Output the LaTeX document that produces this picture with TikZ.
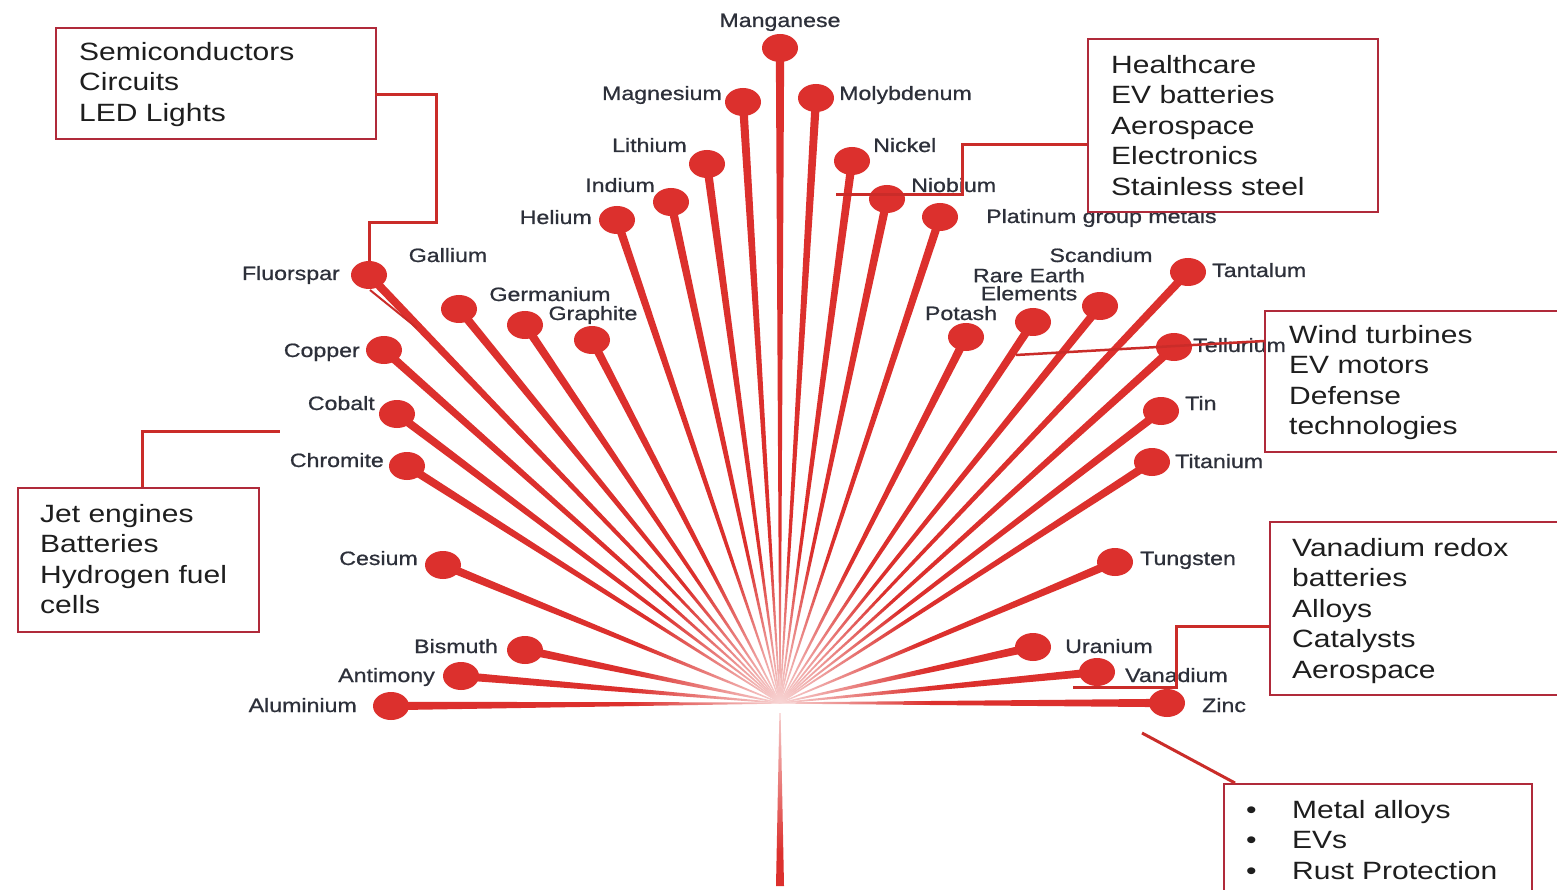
\documentclass[tikz,border=0pt]{standalone}
\usepackage{fontspec}
\setmainfont{Liberation Sans}
\newfontfamily\stretchfont[FakeStretch=1.2]{Liberation Sans}
\newfontfamily\lblfont[FakeStretch=1.2,FakeBold=0.8]{Liberation Sans}
\usetikzlibrary{shapes.geometric,calc,fadings}
\tikzfading[name=centerfade, inner color=transparent!0, outer color=transparent!100]
\definecolor{spokered}{RGB}{220,48,45}
\definecolor{framered}{RGB}{176,42,58}
\definecolor{lblgray}{RGB}{45,48,58}
\definecolor{boxink}{RGB}{30,30,30}
\tikzset{
  ball/.style={ellipse, fill=spokered, inner sep=0pt, minimum width=36pt, minimum height=28pt},
  lbl/.style={inner sep=0pt, text=lblgray, font=\lblfont\fontsize{19.3}{18}\selectfont},
  boxframe/.style={draw=framered, line width=1.6pt, inner sep=0pt, anchor=north west},
  boxtext/.style={inner sep=0pt, align=left, anchor=north west, text=boxink, font=\stretchfont\fontsize{25}{30.5}\selectfont},
  link/.style={draw=spokered!92!black, line width=3pt},
}
\begin{document}
\begin{tikzpicture}[x=1pt,y=-1pt]
\useasboundingbox (0,0) rectangle (1557,890);
\fill[white] (0,0) rectangle (1557,890);
\coordinate (c) at (780,703);
% balls
\foreach \n/\x/\y in {mn/780/48, mg/743/102, mo/816/98, li/707/164, ni/852/161,
  in/671/202, nb/887/199, he/617/220, pt/940/217, fl/369/275, ga/459/309,
  ge/525/325, gr/592/340, cu/384/350, co/397/414, cr/407/466, cs/443/565,
  bi/525/650, sb/461/676, al/391/706, k/966/337, re/1033/322, sc/1100/306,
  ta/1188/272, te/1174/347, sn/1161/411, ti/1152/462, w/1115/562,
  u/1033/647, v/1097/672, zn/1167/703}
  \node[ball] (\n) at (\x,\y) {};
% spokes
\foreach \n in {mn,mg,mo,li,ni,in,nb,he,pt,fl,ga,ge,gr,cu,co,cr,cs,bi,sb,al,
  k,re,sc,ta,te,sn,ti,w,u,v,zn}
  \fill[spokered] ($(c)!0.6pt!90:(\n)$) -- ($(\n)!4.2pt!-90:(c)$)
     -- ($(\n)!4.2pt!90:(c)$) -- ($(c)!0.6pt!-90:(\n)$) -- cycle;
% stem
\coordinate (stemtop) at (780,713);
\coordinate (stembot) at (780,886);
\fill[spokered] ($(stemtop)+(-0.6,0)$) -- ($(stemtop)+(0.6,0)$)
   -- ($(stembot)+(4,0)$) -- ($(stembot)+(-4,0)$) -- cycle;
% fade at the centre
\fill[white, fill opacity=0.8, path fading=centerfade] (c) circle (150pt);
% labels
\node[lbl, anchor=base] (mnL) at (780,27) {Manganese};
\node[lbl, anchor=base east] (mgL) at (722,100) {Magnesium};
\node[lbl, anchor=base west] (moL) at (839,100) {Molybdenum};
\node[lbl, anchor=base east] (liL) at (687,152) {Lithium};
\node[lbl, anchor=base west] (niL) at (873,152) {Nickel};
\node[lbl, anchor=base east] (inL) at (655,192) {Indium};
\node[lbl, anchor=base west] (nbL) at (911,192) {Niobium};
\node[lbl, anchor=base east] (heL) at (592,224) {Helium};
\node[lbl, anchor=base west] (ptL) at (986,223) {Platinum group metals};
\node[lbl, anchor=base east] (flL) at (340,280) {Fluorspar};
\node[lbl, anchor=base] (gaL) at (448,262) {Gallium};
\node[lbl, anchor=base] (geL) at (550,301) {Germanium};
\node[lbl, anchor=base] (grL) at (593,320) {Graphite};
\node[lbl, anchor=base east] (cuL) at (360,357) {Copper};
\node[lbl, anchor=base east] (coL) at (375,410) {Cobalt};
\node[lbl, anchor=base east] (crL) at (384,467) {Chromite};
\node[lbl, anchor=base east] (csL) at (418,565) {Cesium};
\node[lbl, anchor=base east] (biL) at (498,653) {Bismuth};
\node[lbl, anchor=base east] (sbL) at (435,682) {Antimony};
\node[lbl, anchor=base east] (alL) at (357,712) {Aluminium};
\node[lbl, anchor=base] (kL) at (961,320) {Potash};
\node[lbl, anchor=north, align=center] (reL) at (1029,268) {Rare Earth\\Elements};
\node[lbl, anchor=base] (scL) at (1101,262) {Scandium};
\node[lbl, anchor=base west] (taL) at (1212,277) {Tantalum};
\node[lbl, anchor=base west] (teL) at (1193,352) {Tellurium};
\node[lbl, anchor=base west] (snL) at (1185,410) {Tin};
\node[lbl, anchor=base west] (tiL) at (1175,468) {Titanium};
\node[lbl, anchor=base west] (wL) at (1140,565) {Tungsten};
\node[lbl, anchor=base west] (uL) at (1065,653) {Uranium};
\node[lbl, anchor=base west] (vL) at (1125,682) {Vanadium};
\node[lbl, anchor=base west] (znL) at (1202,712) {Zinc};
% boxes
\node[boxframe, minimum width=320pt, minimum height=111pt] (semiBox) at (55,27) {};
\node[boxframe, fill=white, minimum width=290pt, minimum height=173pt] (hcBox) at (1087,38) {};
\node[boxframe, minimum width=241pt, minimum height=144pt] (jetBox) at (17,487) {};
\node[boxframe, minimum width=305pt, minimum height=141pt] (windBox) at (1264,310) {};
\node[boxframe, minimum width=300pt, minimum height=173pt] (vanBox) at (1269,521) {};
\node[boxframe, minimum width=308pt, minimum height=120pt] (metBox) at (1223,783) {};
% connector end points
\coordinate (s1) at (375,95);
\coordinate (h1) at (1087,145);
\coordinate (h2) at (836,195);
\coordinate (j1) at (142,487);
\coordinate (j2) at (280,431);
\coordinate (t1) at (1264,341);
\coordinate (t2) at (1016,355);
\coordinate (v1) at (1269,626);
\coordinate (v2) at (1073,687);
\coordinate (m1) at (1235,783);
\coordinate (m2) at (1142,733);
\coordinate (f1) at (370,290);
\coordinate (f2) at (417,328);
% connectors
\draw[link] (s1) -| (436,223) -| (fl.north);
\draw[link, line width=2pt] (f1) -- (f2);
\draw[link] (h1) -| (962,195) -- (h2);
\draw[link] (j1) |- (j2);
\draw[link, line width=2.5pt] (t1) -- (t2);
\draw[link] (v1) -| (1176,687) -- (v2);
\draw[link] (m1) -- (m2);
% box texts
\node[boxtext] (semiT) at (79,42) {Semiconductors\\Circuits\\LED Lights};
\node[boxtext] (hcT) at (1111,55) {Healthcare\\EV batteries\\Aerospace\\Electronics\\Stainless steel};
\node[boxtext] (jetT) at (40,504) {Jet engines\\Batteries\\Hydrogen fuel\\cells};
\node[boxtext] (windT) at (1289,325) {Wind turbines\\EV motors\\Defense\\technologies};
\node[boxtext] (vanT) at (1292,538) {Vanadium redox\\batteries\\Alloys\\Catalysts\\Aerospace};
\node[boxtext] (metT) at (1246,800) {\makebox[46pt][l]{\textbullet}Metal alloys\\\makebox[46pt][l]{\textbullet}EVs\\\makebox[46pt][l]{\textbullet}Rust Protection};
\end{tikzpicture}
\end{document}
